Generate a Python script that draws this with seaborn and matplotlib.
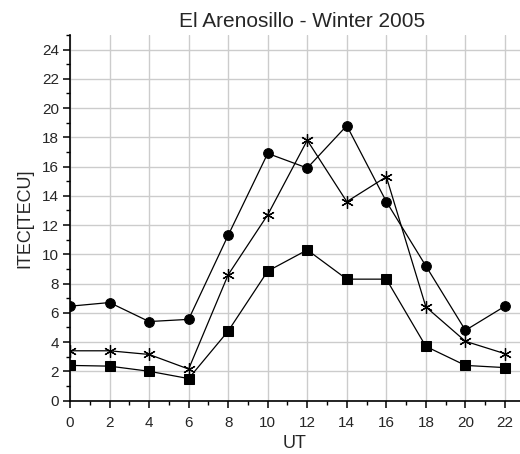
import matplotlib
matplotlib.use("Agg")
import matplotlib.pyplot as plt
import seaborn as sns
import pandas as pd
from matplotlib.ticker import MultipleLocator

hours = [0, 2, 4, 6, 8, 10, 12, 14, 16, 18, 20, 22]
circles = [6.45, 6.7, 5.4, 5.55, 11.3, 16.9, 15.9, 18.8, 13.6, 9.2, 4.8, 6.45]
stars = [3.4, 3.4, 3.15, 2.15, 8.6, 12.7, 17.8, 13.6, 15.3, 6.4, 4.05, 3.2]
squares = [2.4, 2.35, 2.0, 1.5, 4.75, 8.85, 10.3, 8.3, 8.3, 3.7, 2.4, 2.25]

sns.set_style("white")
plt.rcParams['font.family'] = ['Liberation Sans', 'DejaVu Sans']

fig = plt.figure(figsize=(5.2, 4.54), dpi=100)
ax = fig.add_axes([70/520, 1 - 400.5/454, (520 - 70)/520, (400.5 - 35)/454])

df = pd.DataFrame({"UT": hours, "c": circles, "s": stars, "q": squares})
sns.lineplot(data=df, x="UT", y="c", ax=ax, color="black", lw=0.9,
             marker="o", markersize=7, markeredgecolor="black", zorder=3)
sns.lineplot(data=df, x="UT", y="s", ax=ax, color="black", lw=0.9,
             marker=(6, 2, 0), markersize=9, markeredgewidth=0.9, markeredgecolor="black", zorder=3)
sns.lineplot(data=df, x="UT", y="q", ax=ax, color="black", lw=0.9,
             marker="s", markersize=6.5, markeredgecolor="black", zorder=3)

ax.set_xlim(0, 22.76)
ax.set_ylim(0, 25)
ax.xaxis.set_major_locator(MultipleLocator(2))
ax.xaxis.set_minor_locator(MultipleLocator(1))
ax.yaxis.set_major_locator(MultipleLocator(2))
ax.yaxis.set_minor_locator(MultipleLocator(1))
ax.grid(True, which="major", color="#cccccc", lw=1.0, zorder=0)
ax.set_axisbelow(True)
for side in ["top", "right"]:
    ax.spines[side].set_visible(False)
for side in ["left", "bottom"]:
    ax.spines[side].set_color("black")
    ax.spines[side].set_linewidth(1.2)
ax.tick_params(which="major", direction="out", length=5, width=1.1, color="black",
               labelsize=11, left=True, bottom=True)
ax.tick_params(axis="x", which="major", pad=6)
ax.tick_params(axis="y", which="major", pad=3)
ax.tick_params(which="minor", direction="out", length=3, width=1.0, color="black",
               left=True, bottom=True)
ax.set_xlabel("UT", fontsize=13, labelpad=4)
ax.set_ylabel("ITEC[TECU]", fontsize=13, labelpad=6)
ax.set_title("El Arenosillo - Winter 2005", fontsize=15, pad=6, x=0.515)

fig.savefig("out.png", dpi=100)
